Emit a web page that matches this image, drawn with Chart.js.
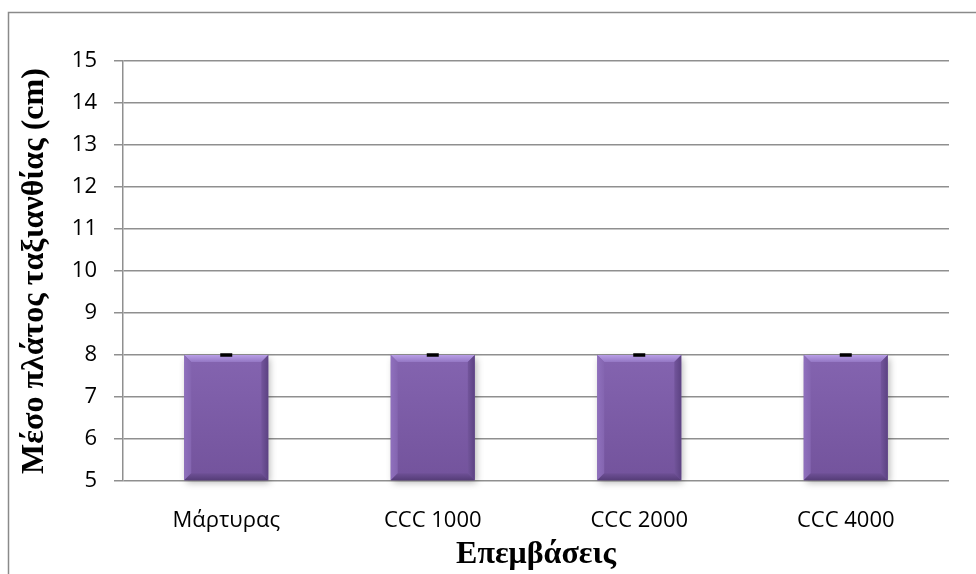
<!DOCTYPE html>
<html>
<head>
<meta charset="utf-8">
<script src="https://cdn.jsdelivr.net/npm/chart.js@4/dist/chart.umd.min.js"></script>
<style>
  html, body { margin: 0; padding: 0; background: #fff; }
  #wrap { width: 976px; height: 574px; position: relative; }
</style>
</head>
<body>
<div id="wrap"><canvas id="c" width="976" height="574"></canvas></div>
<script>
// Treatments and mean inflorescence width (cm)
const categories = ['Μάρτυρας', 'CCC 1000', 'CCC 2000', 'CCC 4000'];
const meanWidth = [8, 8, 8, 8];
const stdError = [0.02, 0.02, 0.02, 0.02];
const yTicks = [5, 6, 7, 8, 9, 10, 11, 12, 13, 14, 15];

const yTitle = 'Μέσο πλάτος ταξιανθίας (cm)';
const xTitle = 'Επεμβάσεις';

// Outer frame of the chart object
const framePlugin = {
  id: 'frame',
  beforeDraw(chart) {
    const ctx = chart.ctx;
    ctx.save();
    ctx.fillStyle = '#fff';
    ctx.fillRect(0, 0, chart.width, chart.height);
    ctx.strokeStyle = '#8a8a8a';
    ctx.lineWidth = 1.5;
    ctx.strokeRect(8.5, 12.5, chart.width + 20, chart.height + 20);
    ctx.restore();
  }
};

// Bevelled bar look with a soft drop shadow, then the error bars
const bevelPlugin = {
  id: 'bevel',
  afterDatasetsDraw(chart) {
    const ctx = chart.ctx;
    const meta = chart.getDatasetMeta(0);
    const yScale = chart.scales.y;
    const area = chart.chartArea;
    meta.data.forEach((bar, i) => {
      const w = bar.width;
      const l = bar.x - w / 2, r = bar.x + w / 2;
      const t = bar.y, b = Math.min(bar.base, area.bottom);
      const h = b - t;
      const e = 7; // bevel depth
      ctx.save();
      // shadow
      ctx.shadowColor = 'rgba(0,0,0,0.3)';
      ctx.shadowBlur = 7;
      ctx.shadowOffsetX = 2;
      ctx.shadowOffsetY = 3;
      const g = ctx.createLinearGradient(0, t, 0, b);
      g.addColorStop(0, '#8464b0');
      g.addColorStop(1, '#73539c');
      ctx.fillStyle = g;
      ctx.fillRect(l, t, w, h);
      ctx.restore();

      ctx.save();
      // top bevel (light)
      const gt = ctx.createLinearGradient(0, t, 0, t + e);
      gt.addColorStop(0, '#b89ee6');
      gt.addColorStop(1, '#9477c4');
      ctx.fillStyle = gt;
      ctx.beginPath();
      ctx.moveTo(l, t); ctx.lineTo(r, t); ctx.lineTo(r - e, t + e); ctx.lineTo(l + e, t + e); ctx.closePath();
      ctx.fill();
      // left bevel
      const gl = ctx.createLinearGradient(l, 0, l + e, 0);
      gl.addColorStop(0, '#8f70bd');
      gl.addColorStop(1, '#8465b0');
      ctx.fillStyle = gl;
      ctx.beginPath();
      ctx.moveTo(l, t); ctx.lineTo(l + e, t + e); ctx.lineTo(l + e, b - e); ctx.lineTo(l, b); ctx.closePath();
      ctx.fill();
      // right bevel (dark)
      const gr = ctx.createLinearGradient(r - e, 0, r, 0);
      gr.addColorStop(0, '#73559c');
      gr.addColorStop(1, '#5c4282');
      ctx.fillStyle = gr;
      ctx.beginPath();
      ctx.moveTo(r, t); ctx.lineTo(r, b); ctx.lineTo(r - e, b - e); ctx.lineTo(r - e, t + e); ctx.closePath();
      ctx.fill();
      // bottom bevel (darkest)
      const gb = ctx.createLinearGradient(0, b - e, 0, b);
      gb.addColorStop(0, '#6e5096');
      gb.addColorStop(1, '#553d78');
      ctx.fillStyle = gb;
      ctx.beginPath();
      ctx.moveTo(l, b); ctx.lineTo(r, b); ctx.lineTo(r - e, b - e); ctx.lineTo(l + e, b - e); ctx.closePath();
      ctx.fill();
      ctx.restore();

      // error bar
      const v = meanWidth[i], se = stdError[i];
      const yHi = yScale.getPixelForValue(v + se);
      const yLo = yScale.getPixelForValue(v - se);
      ctx.save();
      ctx.strokeStyle = '#000';
      ctx.lineWidth = 2;
      ctx.beginPath();
      ctx.moveTo(bar.x, yHi); ctx.lineTo(bar.x, yLo);
      ctx.moveTo(bar.x - 6, yHi); ctx.lineTo(bar.x + 6, yHi);
      ctx.moveTo(bar.x - 6, yLo); ctx.lineTo(bar.x + 6, yLo);
      ctx.stroke();
      ctx.restore();
    });
  }
};

new Chart(document.getElementById('c'), {
  type: 'bar',
  data: {
    labels: categories,
    datasets: [{
      data: meanWidth,
      base: 5,
      backgroundColor: 'rgba(0,0,0,0)',
      borderWidth: 0,
      categoryPercentage: 1,
      barPercentage: 0.407
    }]
  },
  options: {
    responsive: false,
    animation: false,
    events: [],
    layout: { padding: { top: 61, right: 27, left: 0, bottom: 0 } },
    plugins: {
      legend: { display: false },
      tooltip: { enabled: false }
    },
    scales: {
      x: {
        grid: { display: false, drawTicks: false },
        border: { display: false },
        ticks: {
          color: '#000',
          padding: 27,
          font: { family: '"Open Sans", sans-serif', size: 22 }
        },
        title: {
          display: true,
          text: xTitle,
          color: '#000',
          font: { family: '"Liberation Serif", "Times New Roman", serif', size: 32, weight: 'bold' },
          padding: { top: 0, bottom: 0 }
        },
        afterFit(scale) { scale.height = 93; }
      },
      y: {
        min: 5,
        max: 15,
        afterBuildTicks(scale) { scale.ticks = yTicks.map(v => ({ value: v })); },
        grid: { color: '#8f8f8f', lineWidth: 1.5, tickLength: 9 },
        border: { color: '#8f8f8f', width: 1.5 },
        ticks: {
          color: '#000',
          padding: 17,
          font: { family: '"Open Sans", sans-serif', size: 22 }
        },
        title: {
          display: true,
          text: yTitle,
          color: '#000',
          font: { family: '"Liberation Serif", "Times New Roman", serif', size: 32, weight: 'bold' },
          padding: { top: 16, bottom: 0 }
        },
        afterFit(scale) { scale.width = 123; }
      }
    }
  },
  plugins: [framePlugin, bevelPlugin]
});
</script>
</body>
</html>
